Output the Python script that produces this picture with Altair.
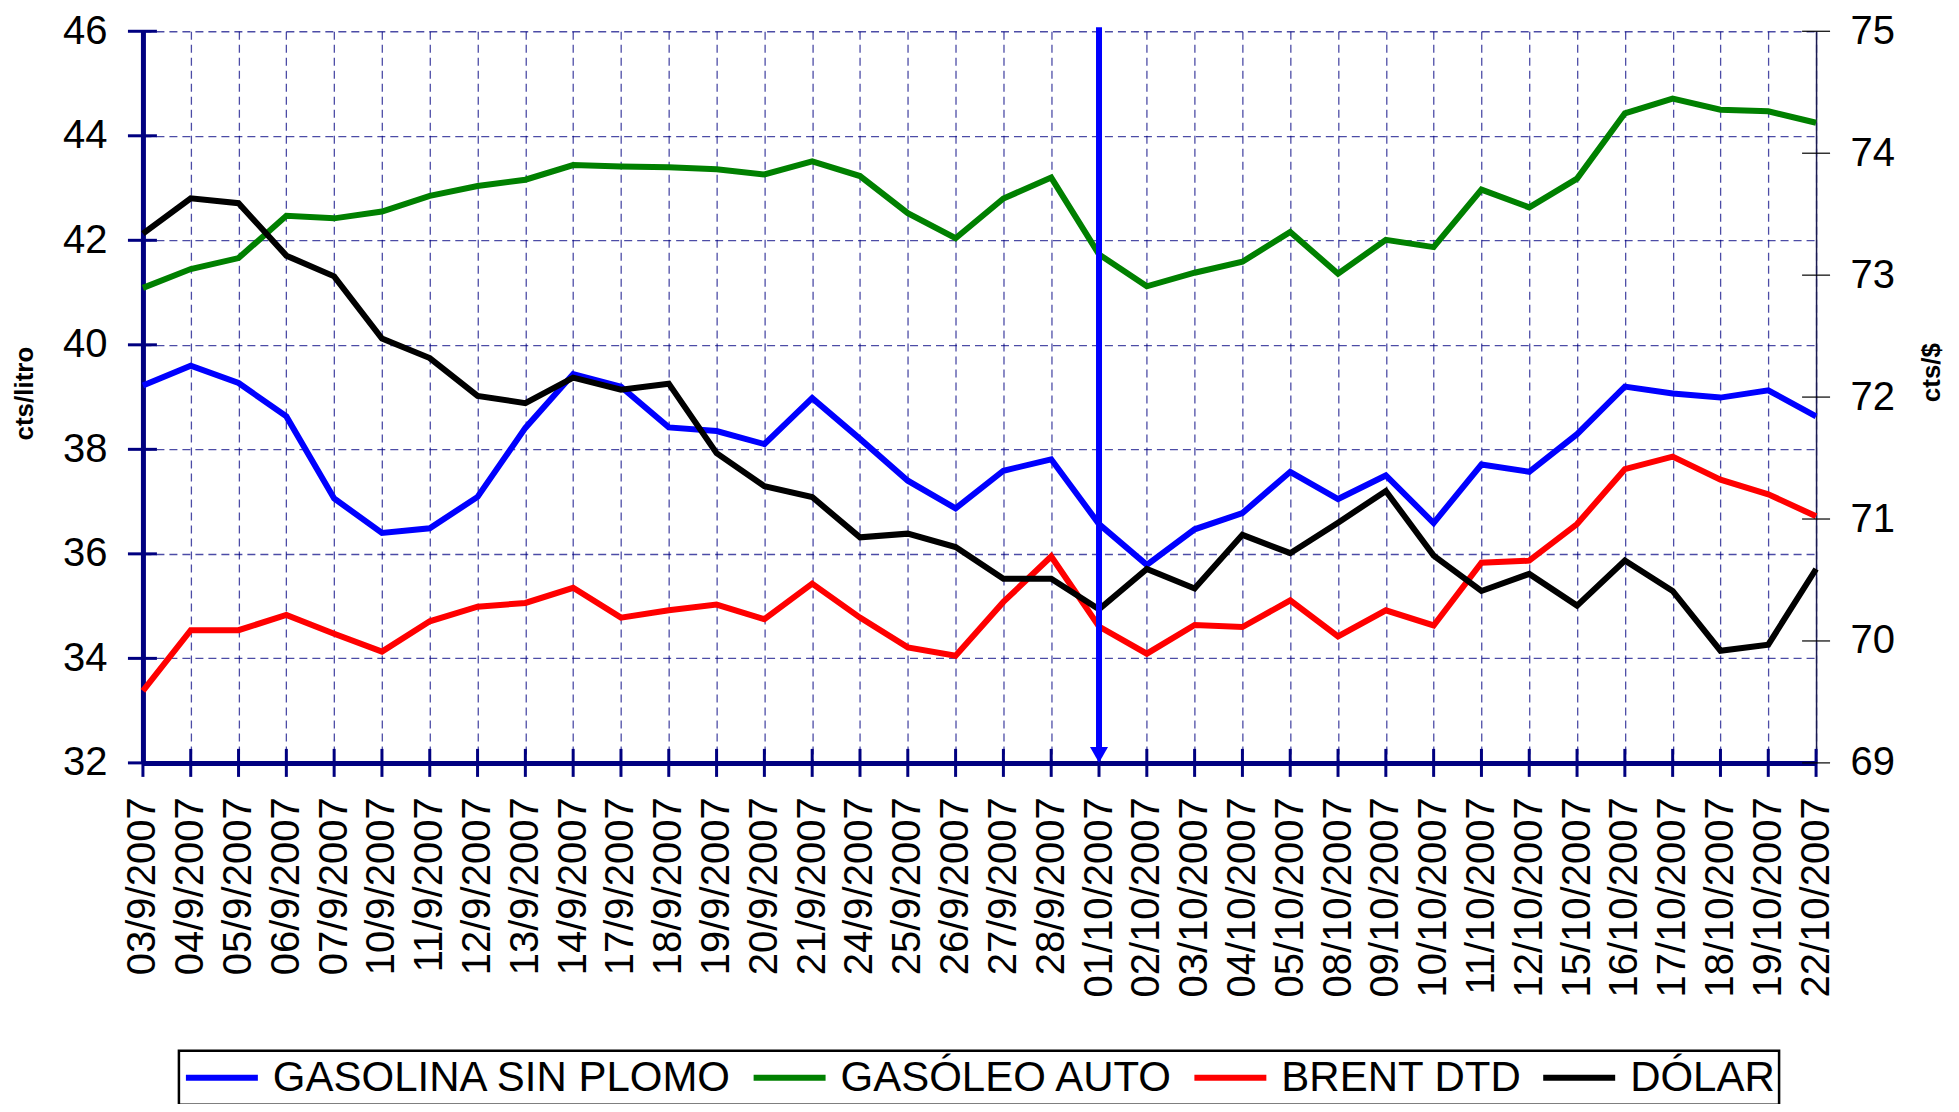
import altair as alt
import pandas as pd

fechas = ["03/9/2007", "04/9/2007", "05/9/2007", "06/9/2007", "07/9/2007", "10/9/2007",
          "11/9/2007", "12/9/2007", "13/9/2007", "14/9/2007", "17/9/2007", "18/9/2007",
          "19/9/2007", "20/9/2007", "21/9/2007", "24/9/2007", "25/9/2007", "26/9/2007",
          "27/9/2007", "28/9/2007", "01/10/2007", "02/10/2007", "03/10/2007", "04/10/2007",
          "05/10/2007", "08/10/2007", "09/10/2007", "10/10/2007", "11/10/2007", "12/10/2007",
          "15/10/2007", "16/10/2007", "17/10/2007", "18/10/2007", "19/10/2007", "22/10/2007"]

gasolina = [39.22, 39.60, 39.27, 38.63, 37.06, 36.40, 36.49, 37.09, 38.41, 39.44, 39.20, 38.42,
            38.35, 38.10, 38.98, 38.20, 37.40, 36.87, 37.59, 37.81, 36.57, 35.79, 36.47, 36.78,
            37.57, 37.05, 37.50, 36.59, 37.71, 37.57, 38.29, 39.20, 39.07, 38.99, 39.13, 38.63]
gasoleo = [41.09, 41.45, 41.66, 42.47, 42.42, 42.55, 42.85, 43.04, 43.16, 43.44, 43.41, 43.40,
           43.36, 43.26, 43.51, 43.23, 42.52, 42.04, 42.80, 43.20, 41.73, 41.12, 41.38, 41.59,
           42.16, 41.36, 42.01, 41.87, 42.97, 42.63, 43.18, 44.43, 44.71, 44.50, 44.47, 44.25]
brent = [33.38, 34.54, 34.54, 34.83, 34.47, 34.13, 34.71, 34.99, 35.06, 35.35, 34.78, 34.92,
         35.03, 34.75, 35.43, 34.78, 34.21, 34.05, 35.08, 35.95, 34.61, 34.09, 34.64, 34.60,
         35.11, 34.42, 34.92, 34.63, 35.83, 35.87, 36.57, 37.62, 37.86, 37.42, 37.14, 36.72]
dolar = [73.34, 73.63, 73.59, 73.16, 72.99, 72.48, 72.32, 72.01, 71.95, 72.16, 72.06, 72.11,
         71.54, 71.27, 71.18, 70.85, 70.88, 70.77, 70.51, 70.51, 70.26, 70.59, 70.43, 70.87,
         70.72, 70.97, 71.23, 70.70, 70.41, 70.55, 70.29, 70.66, 70.41, 69.92, 69.97, 70.59]

series = ["GASOLINA SIN PLOMO", "GASÓLEO AUTO", "BRENT DTD", "DÓLAR"]
colores = ["#0000ff", "#008000", "#ff0000", "#000000"]
ticks_izq = [32, 34, 36, 38, 40, 42, 44, 46]
ticks_der = [69, 70, 71, 72, 73, 74, 75]
fecha_marcada = ["01/10/2007"]

TOP = 23
W, H = 1674, 732
FONT = "Liberation Sans"
NAVY = "#000080"
LW = 6

rows = []
for nombre, vals in zip(series[:3], [gasolina, gasoleo, brent]):
    for f, v in zip(fechas, vals):
        rows.append({"fecha": f, "serie": nombre, "valor": v})
df_izq = pd.DataFrame(rows)
df_der = pd.DataFrame({"fecha": fechas, "serie": series[3], "valor": dolar})
df_fechas = pd.DataFrame({"fecha": fechas})
df_ti = pd.DataFrame({"valor": ticks_izq})
df_td = pd.DataFrame({"valor": ticks_der})
df_flecha = pd.DataFrame({"fecha": fecha_marcada})

x_axis = alt.Axis(
    title=None, grid=True, gridColor=NAVY, gridOpacity=0.7, gridDash=[8, 5], gridWidth=1.3,
    domainColor=NAVY, domainWidth=5, ticks=False, labelAngle=270, labelFontSize=40,
    labelFont=FONT, labelColor="black", labelPadding=34, labelLimit=400,
    labelAlign="right", labelBaseline="middle",
)
x_enc = alt.X("fecha:N", sort=fechas, scale=alt.Scale(type="point", padding=0), axis=x_axis)

y_izq_scale = alt.Scale(domain=[32, 46], nice=False, zero=False)
y_izq_axis = alt.Axis(
    orient="left", values=ticks_izq, grid=True, gridColor=NAVY, gridOpacity=0.7,
    gridDash=[8, 5], gridWidth=1.3, domainColor=NAVY, domainWidth=5, ticks=False,
    labelFontSize=40, labelFont=FONT, labelColor="black", labelPadding=36,
    title="cts/litro", titleFont=FONT, titleFontSize=26, titleFontWeight="bold",
    titleColor="black", titleAngle=270, titleX=-118, titleY=362,
    titleAlign="center", titleBaseline="middle",
)
y_der_scale = alt.Scale(domain=[69, 75], nice=False, zero=False)
y_der_axis = alt.Axis(
    orient="right", values=ticks_der, grid=False, domainColor="#1a1a50", domainWidth=1.5,
    ticks=False, labelFontSize=40, labelFont=FONT, labelColor="black", labelPadding=34,
    title="cts/$", titleFont=FONT, titleFontSize=26, titleFontWeight="bold",
    titleColor="black", titleAngle=270, titleX=115, titleY=341,
    titleAlign="center", titleBaseline="middle",
)

color_enc = alt.Color(
    "serie:N",
    scale=alt.Scale(domain=series, range=colores),
    legend=alt.Legend(
        title=None, orient="none", legendX=36, legendY=1020, direction="horizontal",
        symbolType="stroke", symbolSize=5184, symbolStrokeWidth=6, labelFontSize=42,
        labelFont=FONT, labelColor="black", labelOffset=12, columnPadding=18, padding=4,
        strokeColor="black", labelLimit=1000, clipHeight=46,
    ),
)

lineas_izq = alt.Chart(df_izq).mark_line(strokeWidth=LW).encode(
    x=x_enc,
    y=alt.Y("valor:Q", scale=y_izq_scale, axis=y_izq_axis),
    color=color_enc,
    detail="serie:N",
    strokeWidth=alt.value(LW),
)
ticks_izq_marks = alt.Chart(df_ti).mark_rule(color=NAVY, strokeWidth=3).encode(
    y=alt.Y("valor:Q", scale=y_izq_scale, axis=y_izq_axis),
    x=alt.value(-15), x2=alt.value(14),
)
ticks_x = alt.Chart(df_fechas).mark_rule(color=NAVY, strokeWidth=3).encode(
    x=x_enc, y=alt.value(H - 14), y2=alt.value(H + 14),
)
capa_izq = alt.layer(lineas_izq, ticks_izq_marks, ticks_x)

linea_der = alt.Chart(df_der).mark_line(strokeWidth=LW).encode(
    x=x_enc,
    y=alt.Y("valor:Q", scale=y_der_scale, axis=y_der_axis),
    color=color_enc,
    strokeWidth=alt.value(LW),
)
ticks_der_marks = alt.Chart(df_td).mark_rule(color="black", strokeWidth=1.2).encode(
    y=alt.Y("valor:Q", scale=y_der_scale, axis=y_der_axis),
    x=alt.value(W - 14), x2=alt.value(W + 14),
)
flecha = alt.Chart(df_flecha).mark_rule(color="#0000ff", strokeWidth=6).encode(
    x=x_enc, y=alt.value(-4), y2=alt.value(H - 14),
)
punta = alt.Chart(df_flecha).mark_point(
    shape="triangle-down", filled=True, size=324, color="#0000ff", opacity=1
).encode(x=x_enc, y=alt.value(H - 8))
capa_der = alt.layer(linea_der, ticks_der_marks, flecha, punta)

chart = alt.layer(capa_izq, capa_der).resolve_scale(y="independent").properties(
    width=W, height=H,
    padding={"left": 135, "top": TOP, "right": 135, "bottom": 341},
    autosize=alt.AutoSizeParams(type="none"),
    background="white",
).configure_view(stroke=None).configure_legend(strokeWidth=2.5)

chart.save("out.html", embed_options={"renderer": "svg", "actions": False})
